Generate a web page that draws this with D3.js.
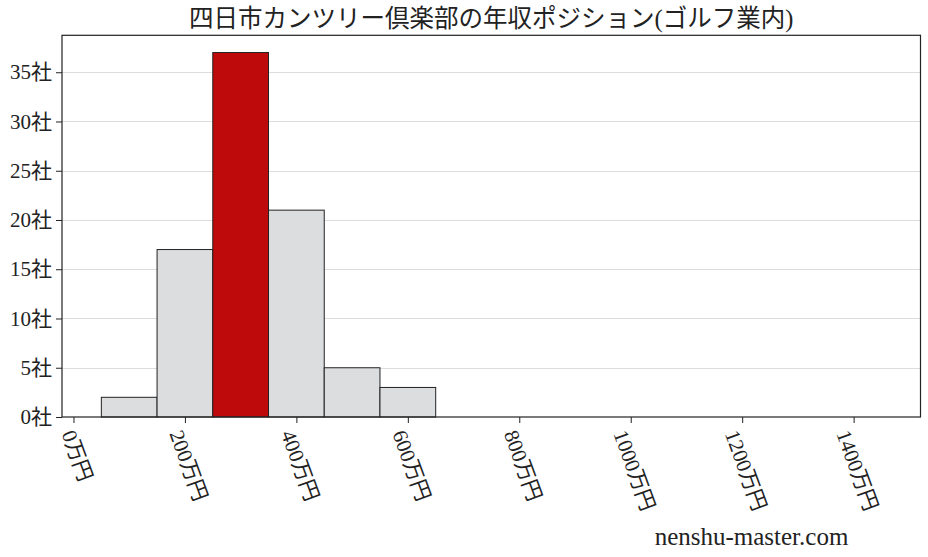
<!DOCTYPE html>
<html><head><meta charset="utf-8">
<script src="https://cdn.jsdelivr.net/npm/d3@7"></script>
<style>
html,body{margin:0;padding:0;background:#fff;}
text{font-family:"Liberation Serif","DejaVu Serif","Noto Sans CJK JP",serif;fill:#222;}
</style></head>
<body>
<svg id="chart" width="928" height="557"></svg>
<script>
const titleText = "四日市カンツリー倶楽部の年収ポジション(ゴルフ業内)";
const binEdges = [50, 150, 250, 350, 450, 550, 650];
const counts = [2, 17, 37, 21, 5, 3];
const highlightIndex = 2;
const xTicks = [0, 200, 400, 600, 800, 1000, 1200, 1400];
const yTicks = [0, 5, 10, 15, 20, 25, 30, 35];
const xSuffix = "万円";
const ySuffix = "社";
const watermark = "nenshu-master.com";

const svg = d3.select("#chart");
const L = 62, R = 920.5, T = 35.3, B = 417;
const x = d3.scaleLinear().domain([-20.6, 1520]).range([L, R]);
const y = d3.scaleLinear().domain([0, 38.75]).range([B, T]);

// grid
svg.append("g").selectAll("line").data(yTicks.filter(d=>d>0)).join("line")
  .attr("x1", L).attr("x2", R)
  .attr("y1", d=>Math.round(y(d))+0.5).attr("y2", d=>Math.round(y(d))+0.5)
  .attr("stroke", "#dddddd").attr("stroke-width", 1);

// bars
const bars = counts.map((c,i)=>({x0:binEdges[i], x1:binEdges[i+1], c, i}));
svg.append("g").selectAll("rect").data(bars).join("rect")
  .attr("x", d=>x(d.x0)).attr("width", d=>x(d.x1)-x(d.x0))
  .attr("y", d=>y(d.c)).attr("height", d=>y(0)-y(d.c))
  .attr("fill", d=>d.i===highlightIndex ? "#be0a0a" : "#dcdddf")
  .attr("stroke", "#222").attr("stroke-width", 1);

// frame
svg.append("rect").attr("x", L).attr("y", T).attr("width", R-L).attr("height", B-T)
  .attr("fill", "none").attr("stroke", "#222").attr("stroke-width", 1.2);

// y axis
const yAxis = d3.axisLeft(y).tickValues(yTicks).tickSize(6).tickPadding(4)
  .tickFormat(d=>d+ySuffix);
const gy = svg.append("g").attr("transform", `translate(${L},0)`).call(yAxis);
gy.select(".domain").remove();
gy.selectAll(".tick line").attr("stroke", "#222");
gy.selectAll(".tick text").attr("font-size", 21).attr("fill", "#222")
  .attr("font-family", '"Liberation Serif","Noto Sans CJK JP",serif');

// x axis
const xAxis = d3.axisBottom(x).tickValues(xTicks).tickSize(6).tickFormat(d=>d+xSuffix);
const gx = svg.append("g").attr("transform", `translate(0,${B})`).call(xAxis);
gx.select(".domain").remove();
gx.selectAll(".tick line").attr("stroke", "#222");
gx.selectAll(".tick text")
  .attr("font-size", 21).attr("fill", "#222")
  .attr("font-family", '"Liberation Serif","Noto Sans CJK JP",serif')
  .attr("text-anchor", "start").attr("dominant-baseline", "central")
  .attr("y", 0).attr("dy", 0)
  .each(function(){
    const len = this.getComputedTextLength();
    const a = 70*Math.PI/180;
    const px = -len/2*Math.cos(a) + 3;
    const py = 14;
    d3.select(this).attr("transform", `translate(${px},${py}) rotate(70)`);
  });

// title
svg.append("text").attr("x", (L+R)/2).attr("y", 27).attr("text-anchor", "middle")
  .attr("font-size", 24.5).text(titleText);

// watermark
svg.append("text").attr("x", 751.5).attr("y", 545).attr("text-anchor", "middle")
  .attr("font-size", 25).text(watermark);
</script>
</body></html>
